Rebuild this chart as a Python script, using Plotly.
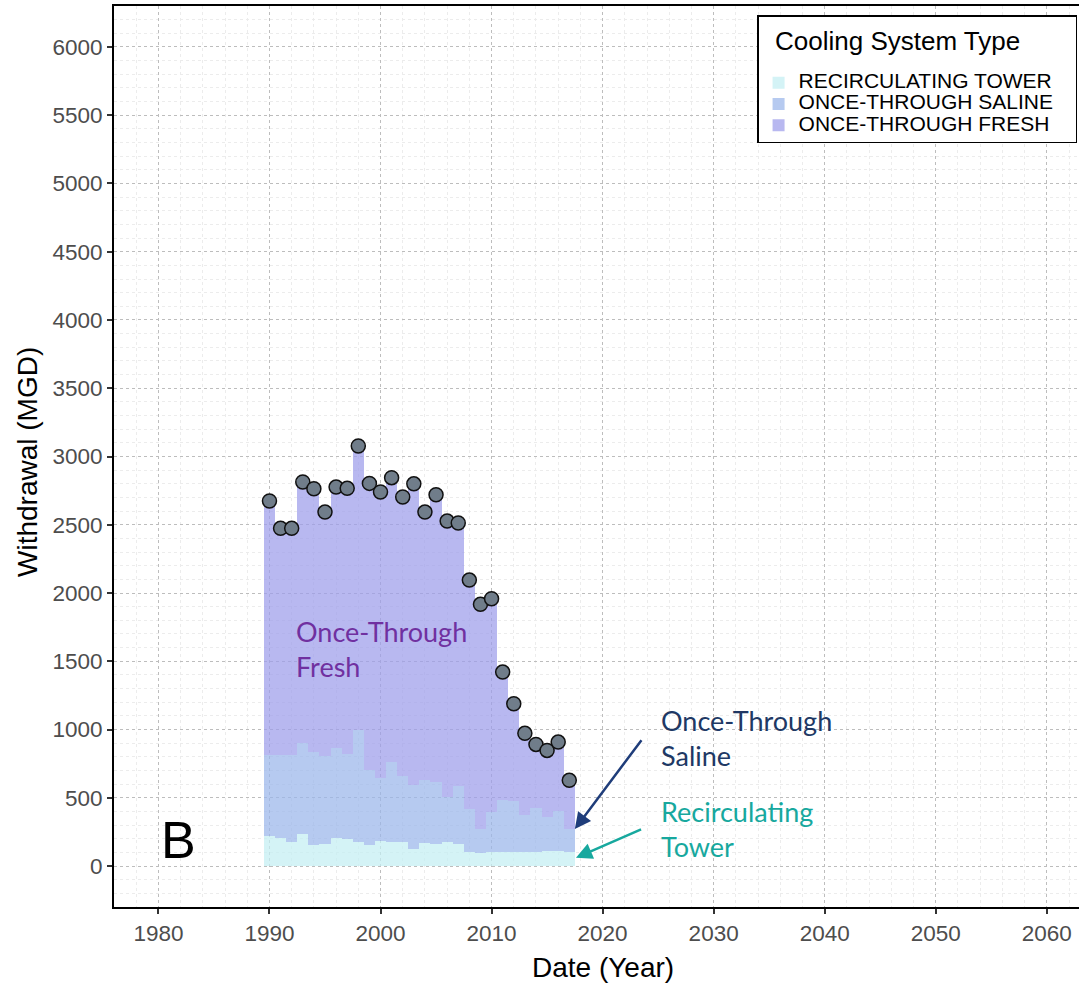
import numpy as np
import plotly.graph_objects as go

years = list(range(1990, 2018))
recirculating_tower = [220, 203, 178, 237, 151, 163, 207, 200, 176, 156, 183, 176, 176, 127,
                       171, 159, 173, 165, 105, 98, 105, 103, 105, 105, 105, 107, 107, 103]
once_through_saline = [591, 608, 633, 662, 684, 643, 655, 623, 817, 547, 464, 588, 483, 464,
                       456, 458, 332, 421, 310, 171, 291, 381, 371, 269, 318, 252, 296, 166]
once_through_fresh = [1863, 1663, 1663, 1914, 1929, 1787, 1914, 1944, 2084, 2100, 2093, 2081,
                      2044, 2209, 1966, 2103, 2022, 1927, 1680, 1648, 1562, 937, 713, 598,
                      468, 488, 505, 359]
total_withdrawal = (np.array(recirculating_tower) + np.array(once_through_saline)
                    + np.array(once_through_fresh)).tolist()

x_ticks = [1980, 1990, 2000, 2010, 2020, 2030, 2040, 2050, 2060]
y_ticks = list(range(0, 6001, 500))

series = [
    ("RECIRCULATING TOWER", recirculating_tower, "rgba(195,238,242,0.72)"),
    ("ONCE-THROUGH SALINE", once_through_saline, "rgba(154,182,234,0.72)"),
    ("ONCE-THROUGH FRESH", once_through_fresh, "rgba(156,156,234,0.72)"),
]

fig = go.Figure()
for name, vals, col in series:
    fig.add_trace(go.Bar(x=years, y=vals, width=1,
                         name='<span style="font-size:21px">' + name + '&nbsp;&nbsp;&nbsp;</span>',
                         marker=dict(color=col, line=dict(width=0)),
                         hoverinfo="skip"))

fig.add_trace(go.Scatter(x=years, y=total_withdrawal, mode="markers", showlegend=False,
                         marker=dict(size=14, color="#707d8a",
                                     line=dict(color="#111111", width=1.5))))

ann_font = "Lato"
annotations = [
    dict(x=1992.25, y=1590, xref="x", yref="y", text="Once-Through<br>Fresh",
         showarrow=False, xanchor="left", yanchor="middle", align="left",
         font=dict(family=ann_font, size=27, color="#7030a0")),
    dict(x=2025.1, y=935, xref="x", yref="y", text="Once-Through<br>Saline",
         showarrow=False, xanchor="left", yanchor="middle", align="left",
         font=dict(family=ann_font, size=27, color="#203864")),
    dict(x=2025.1, y=268, xref="x", yref="y", text="Recirculating<br>Tower",
         showarrow=False, xanchor="left", yanchor="middle", align="left",
         font=dict(family=ann_font, size=27, color="#17a89e")),
    dict(x=2017.5, y=271, ax=2023.6, ay=933, xref="x", yref="y", axref="x", ayref="y",
         text="", showarrow=True, arrowhead=2, arrowsize=1.3, arrowwidth=2.5,
         arrowcolor="#1f3d7a"),
    dict(x=2017.6, y=61, ax=2023.6, ay=273, xref="x", yref="y", axref="x", ayref="y",
         text="", showarrow=True, arrowhead=2, arrowsize=1.3, arrowwidth=2.5,
         arrowcolor="#17a89e"),
    dict(x=1981.8, y=190, xref="x", yref="y", text="B", showarrow=False,
         xanchor="center", yanchor="middle",
         font=dict(family="Liberation Sans", size=52, color="black")),
    # axis titles
    dict(x=(27 - 114) / 965, y=(907 - 462) / 901, xref="paper", yref="paper",
         text="Withdrawal (MGD)", textangle=-90, showarrow=False,
         xanchor="center", yanchor="middle",
         font=dict(family="Liberation Sans", size=28, color="black")),
    dict(x=(603 - 114) / 965, y=(907 - 967) / 901, xref="paper", yref="paper",
         text="Date (Year)", showarrow=False, xanchor="center", yanchor="middle",
         font=dict(family="Liberation Sans", size=28, color="black")),
]

fig.update_layout(
    width=1079, height=985,
    margin=dict(l=114, r=0, t=6, b=78),
    paper_bgcolor="white", plot_bgcolor="white",
    barmode="stack", bargap=0,
    font=dict(family="Liberation Sans", color="black"),
    showlegend=True,
    legend=dict(
        title=dict(text='&nbsp;<br><span style="font-size:26px">&nbsp;&nbsp;Cooling System Type</span><br>&nbsp;',
                   font=dict(size=13, color="black")),
        font=dict(size=14, color="black"),
        traceorder="normal",
        x=0.998, xanchor="right", y=0.990, yanchor="top",
        bgcolor="white", bordercolor="black", borderwidth=1.5,
    ),
    annotations=annotations,
)

fig.update_xaxes(
    range=[1976, 2062.9], tickvals=x_ticks, ticks="outside", ticklen=5,
    tickwidth=1.5, tickcolor="#333333",
    tickfont=dict(size=22.5, color="#4d4d4d"),
    showline=True, linecolor="black", linewidth=2, mirror=True,
    showgrid=True, gridcolor="#bdbdbd", griddash="dot", gridwidth=1.3,
    zeroline=False,
    minor=dict(dtick=2, tick0=1980, showgrid=True, gridcolor="#ececec",
               griddash="dot", gridwidth=1),
)
fig.update_yaxes(
    range=[-300, 6300], tickvals=y_ticks, tickformat="d", ticks="outside", ticklen=5,
    tickwidth=1.5, tickcolor="#333333",
    tickfont=dict(size=22.5, color="#4d4d4d"),
    showline=True, linecolor="black", linewidth=2, mirror=False,
    showgrid=True, gridcolor="#bdbdbd", griddash="dot", gridwidth=1.3,
    zeroline=False,
    minor=dict(dtick=100, showgrid=True, gridcolor="#ececec", griddash="dot", gridwidth=1),
)

fig.write_html("out.html")
